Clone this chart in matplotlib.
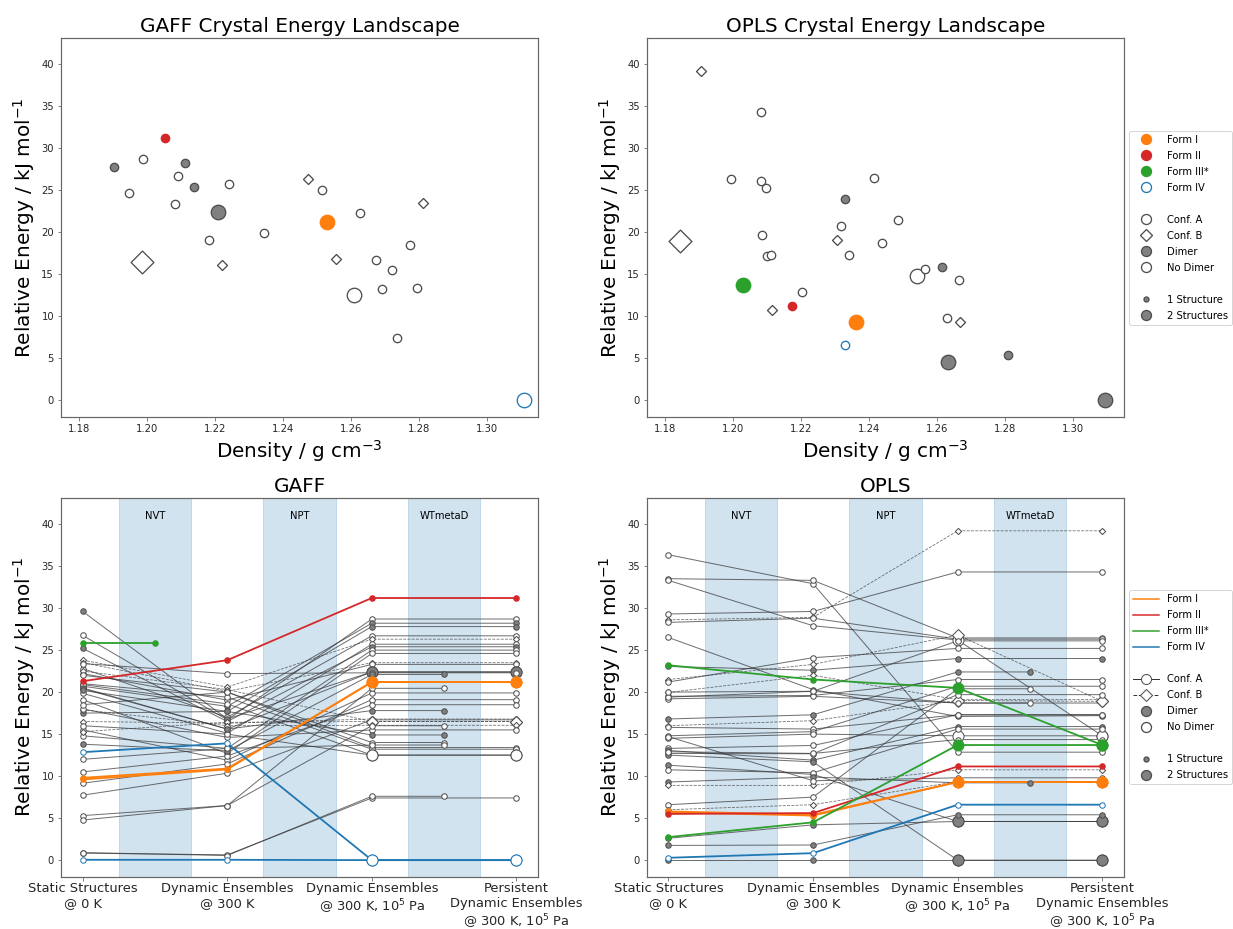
import numpy as np
import matplotlib
matplotlib.use("Agg")
import matplotlib.pyplot as plt
from matplotlib.lines import Line2D

nan = np.nan

# ---- crystal energy landscapes (persistent structures) ----
gaff_density = [1.2054, 1.1904, 1.1989, 1.2113, 1.2091, 1.2139, 1.1947, 1.2240, 1.2081, 1.2209,
                1.2343, 1.2182, 1.1984, 1.2220, 1.2473, 1.2515, 1.2531, 1.2628, 1.2813, 1.2555,
                1.2674, 1.2775, 1.2722, 1.2609, 1.2693, 1.2794, 1.2737, 1.3110]
gaff_energy = [31.2, 27.8, 28.7, 28.2, 26.7, 25.4, 24.6, 25.7, 23.3, 22.4,
               19.9, 19.1, 16.5, 16.1, 26.3, 25.0, 21.2, 22.3, 23.5, 16.8,
               16.7, 18.5, 15.5, 12.5, 13.2, 13.4, 7.4, 0.0]
gaff_conf = list("AAAAAAAAAAAABBBAAABBAAAAAAAA")
gaff_dimer = [0, 1, 0, 1, 0, 1, 0, 0, 0, 1, 0, 0, 0, 0, 0, 0, 0, 0, 0, 0, 0, 0, 0, 0, 0, 0, 0, 0]
gaff_form = ["II", "", "", "", "", "", "", "", "", "", "", "", "", "", "", "", "I", "", "", "",
             "", "", "", "", "", "", "", "IV"]
gaff_n = [1, 1, 1, 1, 1, 1, 1, 1, 1, 2, 1, 1, 2, 1, 1, 1, 2, 1, 1, 1, 1, 1, 1, 2, 1, 1, 1, 2]

opls_density = [1.1906, 1.1844, 1.2083, 1.1996, 1.2083, 1.2098, 1.2086, 1.2100, 1.2113, 1.2031,
                1.2117, 1.2175, 1.2204, 1.2331, 1.2318, 1.2306, 1.2341, 1.2416, 1.2486, 1.2439,
                1.2330, 1.2362, 1.2543, 1.2566, 1.2617, 1.2666, 1.2630, 1.2668, 1.2632, 1.2811,
                1.3095]
opls_energy = [39.2, 18.9, 34.3, 26.3, 26.1, 25.2, 19.7, 17.2, 17.3, 13.7,
               10.75, 11.2, 12.85, 24.0, 20.7, 19.1, 17.3, 26.45, 21.5, 18.7,
               6.6, 9.3, 14.8, 15.6, 15.9, 14.35, 9.8, 9.35, 4.6, 5.4, 0.0]
opls_conf = list("BBAAAAAAAAB" "AAAABAAAAA" "AAAAAABAAA")
opls_dimer = [0, 0, 0, 0, 0, 0, 0, 0, 0, 0, 0, 0, 0, 1, 0, 0, 0, 0, 0, 0,
              0, 0, 0, 0, 1, 0, 0, 0, 1, 1, 1]
opls_form = ["", "", "", "", "", "", "", "", "", "III", "", "II", "", "", "", "", "", "", "", "",
             "IV", "I", "", "", "", "", "", "", "", "", ""]
opls_n = [1, 2, 1, 1, 1, 1, 1, 1, 1, 2, 1, 1, 1, 1, 1, 1, 1, 1, 1, 1,
          1, 2, 2, 1, 1, 1, 1, 1, 2, 1, 2]

# ---- energies along the simulation stages (nan = structure lost) ----
gaff_e0 = [21.3, 26.75, 20.7, 17.5, 22.8, 23.8, 19.85, 25.2, 14.8, 19.1,
           23.5, 22.2, 29.6, 20.4, 23.4, 9.8, 9.6, 15.5, 9.15, 10.5,
           16.5, 7.73, 15.3, 22.5, 17.9, 18.0, 22.0, 21.0, 20.9, 16.0,
           0.83, 12.85, 0.04, 13.8, 5.3, 20.5, 4.77, 20.2, 18.5, 12.0,
           0.9, 25.8]
gaff_e1 = [23.8, 16.7, 18.3, 17.7, 17.0, 20.6, 15.1, 16.5, 13.3, 12.7,
           20.1, 19.05, 16.8, 15.6, 22.2, 10.9, 10.8, 11.9, 11.45, 12.4,
           16.3, 10.35, 16.4, 20.3, 16.0, 14.6, 20.0, 19.4, 18.6, 15.0,
           0.63, 13.9, 0.04, 13.0, 6.5, 15.6, 6.5, 17.7, 20.0, 13.3,
           0.55, nan]
gaff_e2 = [31.2, 28.7, 28.2, 27.8, 26.7, 26.3, 25.7, 25.4, 25.0, 24.6,
           23.5, 23.3, 22.4, 22.4, 22.3, 21.2, 21.2, 19.9, 19.1, 18.5,
           16.8, 16.7, 16.5, 16.5, 16.05, 15.5, 13.4, 13.2, 12.5, 12.5,
           7.4, 0.0, 0.0, 22.1, 20.45, 17.8, 16.0, 14.9, 14.0, 13.7,
           7.6, nan]
gaff_e3 = [31.2, 28.7, 28.2, 27.8, 26.7, 26.3, 25.7, 25.4, 25.0, 24.6,
           23.5, 23.3, 22.4, 22.4, 22.3, 21.2, 21.2, 19.9, 19.1, 18.5,
           16.8, 16.7, 16.5, 16.5, 16.05, 15.5, 13.4, 13.2, 12.5, 12.5,
           7.4, 0.0, 0.0, nan, nan, nan, nan, nan, nan, nan,
           nan, nan]
gaff_run_conf = list("AAAAABAAAA" "BAAAAAAAAA" "BABBBAAAAA" "AAAAAAAAAA" "AA")
gaff_run_dimer = [0, 0, 1, 1, 0, 0, 0, 1, 0, 0, 0, 0, 1, 1, 0, 0, 0, 0, 0, 0, 0,
                  0, 0, 0, 0, 0, 0, 0, 0, 0, 0, 0, 0, 1, 0, 1, 0, 1, 0, 0, 0, 0]
gaff_run_form = ["II", "", "", "", "", "", "", "", "", "", "", "", "", "", "", "I", "I", "", "", "",
                 "", "", "", "", "", "", "", "", "", "", "", "IV", "IV", "", "", "", "", "", "", "",
                 "", "III"]
gaff_run_n = [1, 1, 1, 1, 1, 1, 1, 1, 1, 1, 1, 1, 2, 2, 1, 2, 2, 1, 1, 1, 1,
              1, 2, 2, 1, 1, 1, 1, 2, 2, 1, 2, 2, 1, 1, 1, 1, 1, 1, 1, 1, 1]

opls_e0 = [36.35, 33.5, 33.3, 29.3, 28.6, 28.3, 26.5, 23.2, 23.05, 21.5,
           21.2, 19.96, 19.5, 19.2, 16.8, 16.0, 15.8, 14.8, 14.5, 13.3,
           13.05, 12.7, 12.5, 11.3, 10.75, 9.3, 8.9, 6.6, 6.0, 5.8,
           5.7, 5.5, 2.74, 2.6, 1.75, 0.28, 0.0, 14.7, 19.4, 12.9,
           20.0]
opls_e1 = [32.9, 33.3, 27.9, 29.6, 28.9, 28.8, 20.3, 21.5, 22.6, 23.3,
           24.1, 22.0, 19.6, 19.5, 17.3, 16.6, 15.6, 15.3, 15.0, 13.65,
           11.9, 12.66, 11.7, 10.2, 10.4, 9.9, 8.9, 7.5, 6.6, 5.4,
           5.3, 5.6, 4.5, 4.2, 1.8, 0.83, 0.0, 9.45, 20.1, 12.7,
           20.1]
opls_e2 = [12.85, 26.45, 26.2, 34.3, 39.2, 26.3, 17.1, 20.5, 24.0, 26.8,
           25.2, 19.1, 21.5, 18.7, 22.4, 19.0, 17.3, 20.7, 14.8, 17.3,
           15.9, 19.7, 0.0, 4.6, 15.6, 9.2, 10.75, 20.4, 9.35, 9.3,
           9.3, 11.15, 13.7, 4.6, 5.4, 6.6, 0.0, 9.8, 26.1, 14.35,
           18.7]
opls_e3 = [12.85, 26.45, 14.8, 34.3, 39.2, 26.3, 17.2, 13.7, 24.0, 18.9,
           25.2, 19.1, 21.5, 18.7, nan, 18.9, 17.3, 20.7, 14.8, 17.3,
           15.9, 19.7, 0.0, 4.6, 15.6, nan, 10.75, nan, 9.35, 9.3,
           9.3, 11.15, 13.7, 4.6, 5.4, 6.6, 0.0, 9.8, 26.1, 14.35,
           nan]
opls_run_conf = list("AAAABAAAAB" "ABAAABAAAA" "AAAAAABABA" "AAAAAAAAAA" "A")
opls_run_dimer = [0, 0, 0, 0, 0, 0, 0, 0, 1, 0, 0, 0, 0, 0, 1, 0, 0, 0, 0, 0, 1,
                  0, 1, 1, 0, 1, 0, 0, 0, 0, 0, 0, 0, 1, 1, 0, 1, 0, 0, 0, 0]
opls_run_form = ["", "", "", "", "", "", "", "III", "", "", "", "", "", "", "", "", "", "", "", "",
                 "", "", "", "", "", "", "", "", "", "I", "I", "II", "III", "", "", "IV", "", "", "", "",
                 ""]
opls_run_n = [1, 1, 2, 1, 1, 1, 1, 2, 1, 2, 1, 1, 1, 1, 1, 2, 1, 1, 2, 1, 1,
              1, 2, 2, 1, 1, 1, 1, 1, 2, 2, 1, 2, 2, 1, 1, 2, 1, 1, 1, 1]

stage_labels = ["Static Structures\n@ 0 K", "Dynamic Ensembles\n@ 300 K",
                "Dynamic Ensembles\n@ 300 K, 10$^5$ Pa",
                "Persistent\nDynamic Ensembles\n@ 300 K, 10$^5$ Pa"]
period_labels = ["NVT", "NPT", "WTmetaD"]
legend_labels = ["Form I", "Form II", "Form III*", "Form IV", " ", "Conf. A", "Conf. B",
                 "Dimer", "No Dimer", " ", "1 Structure", "2 Structures"]

FORM_COLORS = {"I": "tab:orange", "II": "tab:red", "III": "tab:green", "IV": "tab:blue"}
ENERGY_LABEL = "Relative Energy / kJ mol$^{-1}$"


def marker_style(conf, dimer, form):
    marker = "D" if conf == "B" else "o"
    if form:
        ec = FORM_COLORS[form]
        fc = "white" if form == "IV" else ec
    else:
        ec = "0.3"
        fc = "0.5" if dimer else "white"
    return marker, fc, ec


def style_axes(ax, title):
    for sp in ax.spines.values():
        sp.set_color("0.4")
        sp.set_linewidth(1.2)
    ax.tick_params(colors="0.4", labelcolor="0.15")
    ax.set_yticks(range(0, 41, 5))
    ax.set_title(title, fontsize=20)
    ax.set_ylabel(ENERGY_LABEL, fontsize=20)


def plot_crystals(ax, title, density, energy, conf, dimer, form, n):
    for i in range(len(density)):
        marker, fc, ec = marker_style(conf[i], dimer[i], form[i])
        if marker == "D":
            s = 260 if n[i] == 2 else 50
        else:
            s = 210 if n[i] == 2 else 70
        ax.scatter(density[i], energy[i], s=s, marker=marker, facecolors=fc,
                   edgecolors=ec, linewidths=1.3, zorder=3)
    ax.set_xlim(1.1747, 1.3151)
    ax.set_ylim(-2.0, 43.1)
    ax.set_xticks(np.arange(1.18, 1.301, 0.02))
    ax.set_xlabel("Density / g cm$^{-3}$", fontsize=20)
    style_axes(ax, title)


def plot_landscape(ax, title, e0, e1, e2, e3, conf, dimer, form, n):
    for k, name in enumerate(period_labels):
        ax.axvspan(k + 0.25, k + 0.75, color="tab:blue", alpha=0.2, zorder=0)
        ax.text(k + 0.5, 41.0, name, ha="center", va="center", fontsize=10)
    for i in range(len(e0)):
        xs, ys = [], []
        for stage, e in enumerate((e0[i], e1[i], e2[i], e3[i])):
            if np.isnan(e):
                # lost during this period -> stop half way
                xs.append(stage - 0.5)
                ys.append(ys[-1])
                break
            xs.append(stage)
            ys.append(e)
        marker, fc, ec = marker_style(conf[i], dimer[i], form[i])
        ls = "--" if conf[i] == "B" else "-"
        if form[i]:
            ax.plot(xs, ys, ls, color=ec, lw=1.8, zorder=3)
        else:
            ax.plot(xs, ys, ls, color="0.2", lw=1.0 if ls == "-" else 0.8, alpha=0.7, zorder=2)
        for x, y in zip(xs, ys):
            ms = 11 if (n[i] == 2 and x in (2, 3)) else 5.5
            if marker == "D":
                ms *= 0.8
            ax.plot(x, y, marker=marker, ms=ms, mfc=fc, mec=ec, mew=1.0, ls="none",
                    zorder=5 if form[i] else 4)
    ax.set_xlim(-0.15, 3.15)
    ax.set_ylim(-1.95, 43.1)
    ax.set_xticks(range(4))
    ax.set_xticklabels(stage_labels, fontsize=13)
    style_axes(ax, title)
    ax.tick_params(axis="x", pad=2)


def blank():
    return Line2D([], [], ls="none", marker="")


def dot(fc, ec, ms=10, marker="o"):
    return Line2D([], [], ls="none", marker=marker, ms=ms, mfc=fc, mec=ec, mew=1.3)


def add_legend(ax, lines):
    if lines:
        handles = [Line2D([], [], color=FORM_COLORS[f], lw=1.5) for f in ("I", "II", "III", "IV")]
        conf_a = Line2D([], [], color="0.2", lw=1.0, marker="o", ms=10, mfc="white", mec="0.3")
        conf_b = Line2D([], [], color="0.2", lw=1.0, ls="--", marker="D", ms=9, mfc="white", mec="0.3")
    else:
        handles = [dot(FORM_COLORS[f], FORM_COLORS[f]) for f in ("I", "II", "III")]
        handles.append(dot("white", "tab:blue"))
        conf_a = dot("white", "0.3")
        conf_b = dot("white", "0.3", ms=9, marker="D")
    handles += [blank(), conf_a, conf_b, dot("0.5", "0.3"), dot("white", "0.3"), blank(),
                dot("0.5", "0.3", ms=5), dot("0.5", "0.3")]
    ax.legend(handles, legend_labels, loc="center left", bbox_to_anchor=(1.0, 0.5), fontsize=10,
              handlelength=2.6, labelspacing=0.6)


fig = plt.figure(figsize=(1233 / 72, 929 / 72), dpi=72)
ax1 = fig.add_axes([0.0495, 0.5511, 0.3869, 0.408])
ax2 = fig.add_axes([0.5245, 0.5511, 0.3871, 0.408])
ax3 = fig.add_axes([0.0495, 0.0565, 0.3869, 0.4074])
ax4 = fig.add_axes([0.5245, 0.0565, 0.3871, 0.4074])

plot_crystals(ax1, "GAFF Crystal Energy Landscape", gaff_density, gaff_energy,
              gaff_conf, gaff_dimer, gaff_form, gaff_n)
plot_crystals(ax2, "OPLS Crystal Energy Landscape", opls_density, opls_energy,
              opls_conf, opls_dimer, opls_form, opls_n)
add_legend(ax2, lines=False)

plot_landscape(ax3, "GAFF", gaff_e0, gaff_e1, gaff_e2, gaff_e3,
               gaff_run_conf, gaff_run_dimer, gaff_run_form, gaff_run_n)
plot_landscape(ax4, "OPLS", opls_e0, opls_e1, opls_e2, opls_e3,
               opls_run_conf, opls_run_dimer, opls_run_form, opls_run_n)
add_legend(ax4, lines=True)

fig.savefig("out.png", dpi=72)
